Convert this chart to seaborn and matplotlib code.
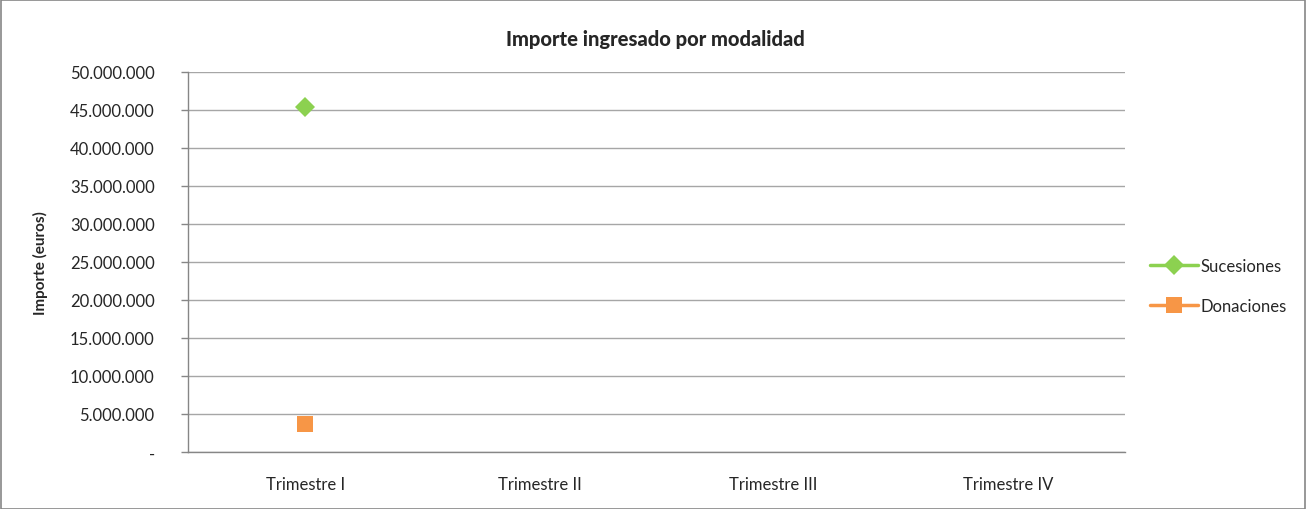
import matplotlib
matplotlib.use("Agg")
import matplotlib.pyplot as plt
import seaborn as sns
import numpy as np
import pandas as pd
from matplotlib.ticker import FuncFormatter, FixedLocator

categories = ["Trimestre I", "Trimestre II", "Trimestre III", "Trimestre IV"]
sucesiones = [45400000, np.nan, np.nan, np.nan]
donaciones = [3750000, np.nan, np.nan, np.nan]
series_names = ["Sucesiones", "Donaciones"]
colors = ["#8CD150", "#F79646"]
markers = ["D", "s"]

sns.set_style("white")
plt.rcParams["font.family"] = ["Lato", "DejaVu Sans"]

fig = plt.figure(figsize=(13.06, 5.10), dpi=100)
ax = fig.add_axes([188/1306, 57/510, (1125-188)/1306, (453-73)/510])

x = np.arange(len(categories))
for name, vals, c, m in zip(series_names, [sucesiones, donaciones], colors, markers):
    df = pd.DataFrame({"x": x, "y": vals})
    sns.lineplot(data=df, x="x", y="y", ax=ax, color=c, marker=m, markersize=10 if m == "D" else 11,
                 markeredgewidth=0, linewidth=2.5, label=name)

ax.set_xlim(-0.5, 3.5)
ax.set_ylim(0, 50000000)
ax.yaxis.set_major_locator(FixedLocator(np.arange(0, 50000001, 5000000)))
ax.yaxis.set_major_formatter(FuncFormatter(lambda v, p: "-" if v == 0 else f"{int(v):,}".replace(",", ".")))
ax.set_xticks(x)
ax.set_xticklabels(categories)
ax.set_xticks(np.arange(-0.5, 4.0, 1.0), minor=True)
ax.tick_params(axis="x", which="major", length=0, pad=17, labelsize=12)
ax.tick_params(axis="x", which="minor", length=5, color="#868686", width=1)
ax.tick_params(axis="y", which="major", length=5, color="#868686", width=1, labelsize=12,
               direction="out", left=True, pad=19)
ax.grid(axis="y", color="#A6A6A6", linewidth=1)
ax.set_axisbelow(True)
for s in ["top", "right"]:
    ax.spines[s].set_visible(False)
for s in ["left", "bottom"]:
    ax.spines[s].set_color("#868686")
    ax.spines[s].set_linewidth(1)
ax.set_xlabel("")
ax.set_ylabel("Importe (euros)", fontsize=11, fontweight="bold", labelpad=16)

fig.text(655/1306, 1 - 40/510, "Importe ingresado por modalidad", ha="center", va="center",
         fontsize=14.5, fontweight=900)

leg = ax.legend(loc="center left", bbox_to_anchor=(1135/1306, 1 - 287/510), bbox_transform=fig.transFigure,
                frameon=False, fontsize=12, handlelength=2.9, labelspacing=1.45, handletextpad=0.15)

fig.patches.append(plt.Rectangle((0.5/1306, 0.5/510), 1 - 1.5/1306, 1 - 1.5/510, transform=fig.transFigure,
                                 fill=False, edgecolor="#868686", linewidth=1.2))

fig.savefig("out.png", dpi=100)
